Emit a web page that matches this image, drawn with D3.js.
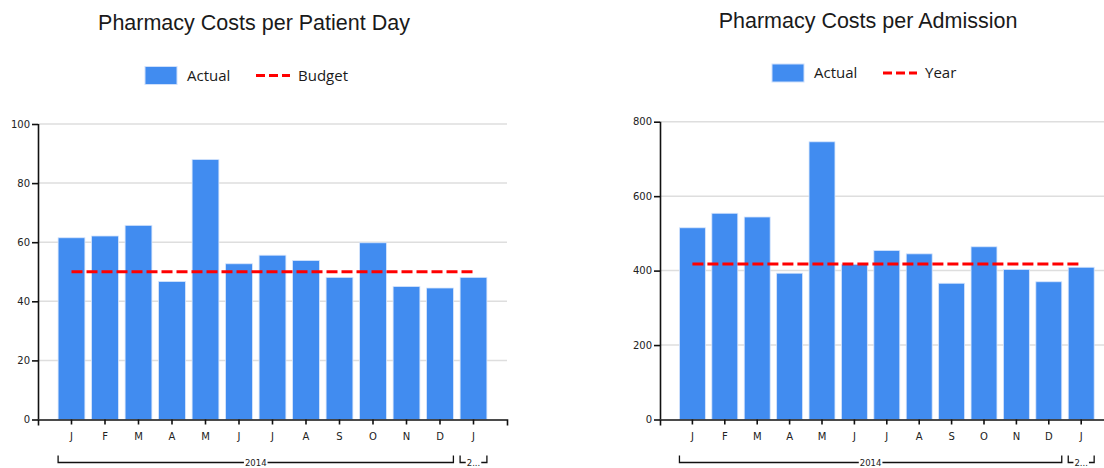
<!DOCTYPE html>
<html>
<head>
<meta charset="utf-8">
<script src="https://cdn.jsdelivr.net/npm/d3@7"></script>
<style>
  body { margin: 0; background: #fff; }
  svg { display: block; }
</style>
</head>
<body>
<div id="chart"></div>
<script>
// data
const months = ["J", "F", "M", "A", "M", "J", "J", "A", "S", "O", "N", "D", "J"];
const yearGroups = ["2014", "2..."];
const yearSpans = [12, 1];

const patientDayActual = [61.5, 62.1, 65.7, 46.7, 88.0, 52.7, 55.6, 53.8, 48.1, 59.8, 45.0, 44.5, 48.1];
const patientDayBudget = 50;
const patientDayTicks = [0, 20, 40, 60, 80, 100];

const admissionActual = [515, 554, 544, 393, 746, 417, 454, 445, 366, 464, 403, 370, 409];
const admissionYear = 418;
const admissionTicks = [0, 200, 400, 600, 800];

const width = 1104;
const height = 468;
const barColor = "#418CF0";
const lineColor = "#ff0000";

const svg = d3.select("#chart")
  .append("svg")
  .attr("width", width)
  .attr("height", height);

function drawChart(opts) {
  const g = svg.append("g");
  const idx = d3.range(months.length);

  const x = d3.scaleBand()
    .domain(idx)
    .range([opts.left, opts.right])
    .paddingInner(0.2)
    .paddingOuter(0.6);

  const y = d3.scaleLinear()
    .domain([0, opts.ticks[opts.ticks.length - 1]])
    .range([opts.bottom, opts.top]);

  // title
  g.append("text")
    .attr("x", opts.titleX)
    .attr("y", opts.titleY)
    .attr("text-anchor", "middle")
    .attr("font-family", "Liberation Sans, Arial, sans-serif")
    .attr("font-size", 21.5)
    .attr("fill", "#1a1a1a")
    .text(opts.title);

  // legend
  const lg = g.append("g").attr("transform", `translate(${opts.legendX},${opts.legendY})`);
  lg.append("rect")
    .attr("x", 0).attr("y", -9)
    .attr("width", 32).attr("height", 18)
    .attr("fill", barColor)
    .attr("stroke", "#cfe0fb").attr("stroke-width", 1);
  lg.append("text")
    .attr("x", 42).attr("y", 5)
    .attr("font-family", "Open Sans, sans-serif")
    .attr("font-size", 15)
    .attr("fill", "#1a1a1a")
    .text("Actual");
  lg.append("line")
    .attr("x1", 111).attr("x2", 145)
    .attr("y1", 0).attr("y2", 0)
    .attr("stroke", lineColor)
    .attr("stroke-width", 3)
    .attr("stroke-dasharray", "9,4");
  lg.append("text")
    .attr("x", 153).attr("y", 5)
    .attr("font-family", "Open Sans, sans-serif")
    .attr("font-size", 15)
    .attr("fill", "#1a1a1a")
    .text(opts.lineName);

  // gridlines
  g.append("g")
    .selectAll("line")
    .data(opts.ticks.slice(1))
    .join("line")
    .attr("x1", opts.left)
    .attr("x2", opts.right)
    .attr("y1", d => y(d))
    .attr("y2", d => y(d))
    .attr("stroke", "#dedede")
    .attr("stroke-width", 1.5);

  // bars
  g.append("g")
    .selectAll("rect")
    .data(opts.values)
    .join("rect")
    .attr("x", (d, i) => x(i))
    .attr("width", x.bandwidth())
    .attr("y", d => y(d))
    .attr("height", d => y(0) - y(d))
    .attr("fill", barColor)
    .attr("stroke", "#d6e5fc")
    .attr("stroke-width", 0.8);

  // reference line
  g.append("line")
    .attr("x1", x(0) + x.bandwidth() / 2)
    .attr("x2", x(months.length - 1) + x.bandwidth() / 2)
    .attr("y1", y(opts.line))
    .attr("y2", y(opts.line))
    .attr("stroke", lineColor)
    .attr("stroke-width", 3)
    .attr("stroke-dasharray", "11,4");

  // axes
  const yAxis = g.append("g")
    .attr("transform", `translate(${opts.left},0)`)
    .call(d3.axisLeft(y).tickValues(opts.ticks).tickSize(6).tickPadding(2).tickSizeOuter(0));
  const xAxis = g.append("g")
    .attr("transform", `translate(0,${opts.bottom})`)
    .call(d3.axisBottom(x).tickFormat(i => months[i]).tickSize(5).tickPadding(8).tickSizeOuter(6));

  [yAxis, xAxis].forEach(a => {
    a.selectAll("path, line").attr("stroke", "#111").attr("stroke-width", 1.6);
    a.selectAll("text")
      .attr("font-family", "DejaVu Sans, Verdana, sans-serif")
      .attr("font-size", 10)
      .attr("fill", "#222");
  });
  yAxis.select(".domain").attr("d", `M0.5,${opts.top}V${opts.bottom}`);

  // year brackets
  const by = opts.bottom + 43;
  let start = 0;
  yearGroups.forEach((label, k) => {
    const x0 = x(start);
    const x1 = x(start + yearSpans[k] - 1) + x.bandwidth();
    const cx = (x0 + x1) / 2;
    const bg = g.append("g");
    bg.append("path")
      .attr("d", `M${x0},${by - 7}V${by}H${x1}V${by - 7}`)
      .attr("fill", "none")
      .attr("stroke", "#111")
      .attr("stroke-width", 1.3);
    const t = bg.append("text")
      .attr("x", cx)
      .attr("y", by + 3)
      .attr("text-anchor", "middle")
      .attr("font-family", "DejaVu Sans, Verdana, sans-serif")
      .attr("font-size", 8.5)
      .attr("fill", "#222")
      .text(label);
    const bb = t.node().getBBox();
    bg.insert("rect", "text")
      .attr("x", bb.x - 1)
      .attr("y", by - 2)
      .attr("width", bb.width + 2)
      .attr("height", 4)
      .attr("fill", "#fff");
    start += yearSpans[k];
  });
}

drawChart({
  title: "Pharmacy Costs per Patient Day",
  titleX: 254,
  titleY: 30,
  legendX: 145,
  legendY: 75.5,
  lineName: "Budget",
  values: patientDayActual,
  line: patientDayBudget,
  ticks: patientDayTicks,
  left: 38,
  right: 507,
  top: 124,
  bottom: 419.5
});

drawChart({
  title: "Pharmacy Costs per Admission",
  titleX: 868,
  titleY: 27.5,
  legendX: 772,
  legendY: 73,
  lineName: "Year",
  values: admissionActual,
  line: admissionYear,
  ticks: admissionTicks,
  left: 660,
  right: 1113.6,
  top: 121.7,
  bottom: 419.5
});
</script>
</body>
</html>
